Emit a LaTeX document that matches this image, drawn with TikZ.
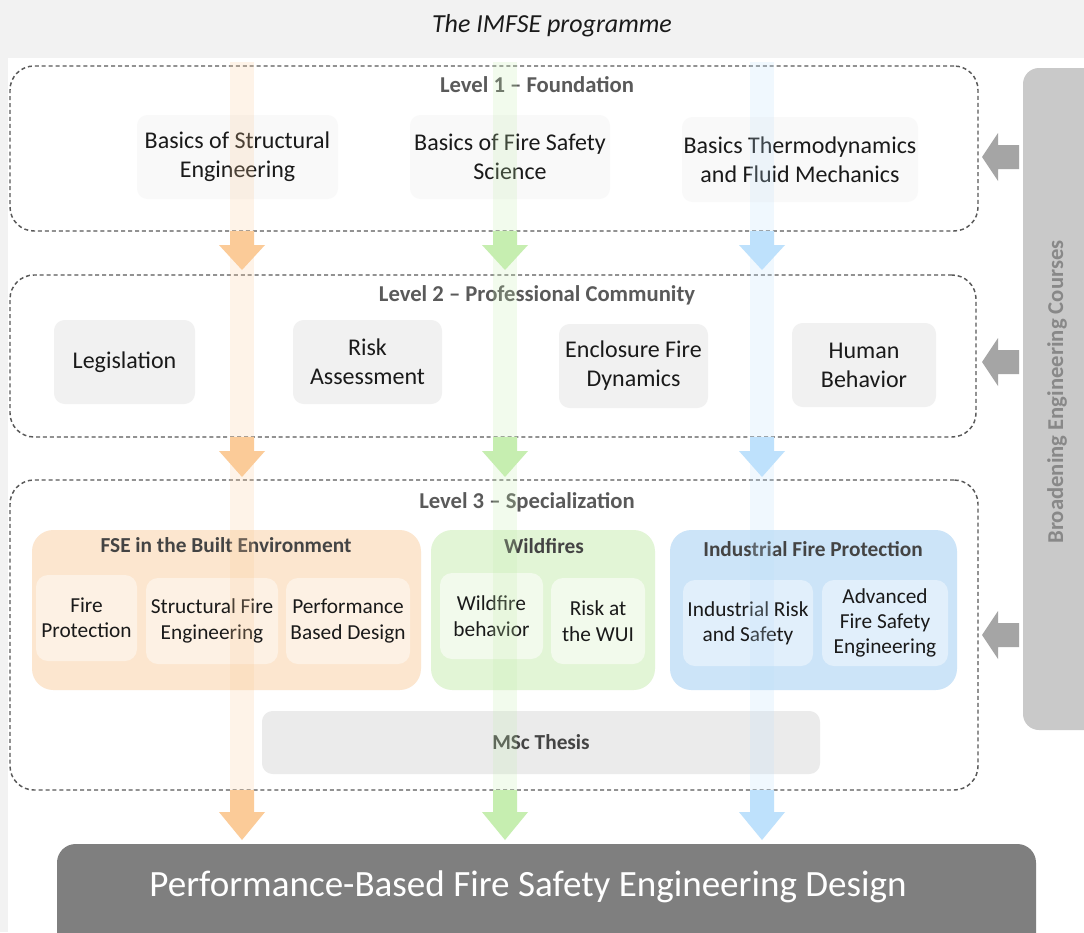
\documentclass[tikz,border=0pt]{standalone}
\usepackage{fontspec}
\setmainfont{Carlito}
\usetikzlibrary{calc}
\definecolor{bgc}{HTML}{F2F2F2}
\definecolor{dashc}{HTML}{595959}
\definecolor{lvlc}{HTML}{5A5A5A}
\definecolor{txtc}{HTML}{1A1A1A}
\definecolor{onefill}{HTML}{F9F9F9}
\definecolor{twofill}{HTML}{F1F1F1}
\definecolor{orgrp}{HTML}{FCE6CF}
\definecolor{orsub}{HTML}{FDF1E4}
\definecolor{orarr}{HTML}{FBCB98}
\definecolor{grgrp}{HTML}{E2F5D6}
\definecolor{grsub}{HTML}{F2FAEC}
\definecolor{grarr}{HTML}{C6EEB0}
\definecolor{blgrp}{HTML}{CCE4F8}
\definecolor{blsub}{HTML}{E1EFFB}
\definecolor{blarr}{HTML}{BEE1FC}
\definecolor{sidec}{HTML}{C9C9C9}
\definecolor{sidearr}{HTML}{A5A5A5}
\definecolor{sidetxt}{HTML}{888888}
\definecolor{finalc}{HTML}{7F7F7F}
\definecolor{grptxt}{HTML}{444444}
\definecolor{mscfill}{HTML}{EBEBEB}
\newcommand{\downblk}[5]{%
  \fill[#1] (#2-12,#3) -- (#2+12,#3) -- (#2+12,#4) -- (#2+23,#4) -- (#2,#5) -- (#2-23,#4) -- (#2-12,#4) -- cycle;}
\newcommand{\leftblk}[1]{%
  \fill[sidearr] (1019,#1-12) -- (998,#1-12) -- (998,#1-24) -- (982,#1) -- (998,#1+24) -- (998,#1+12) -- (1019,#1+12) -- cycle;}
% box from (x1,y1) to (x2,y2) in pixel units
\newcommand{\bx}[7]{\node[#6, minimum width={(#4-#2)*0.75pt}, minimum height={(#5-#3)*0.75pt}] (#1) at ({(#2+#4)/2},{(#3+#5)/2}) {#7};}
\tikzset{
  lvlbox/.style={draw=dashc, line width=1.1pt, dash pattern=on 3pt off 2.2pt, rounded corners=18pt, inner sep=0pt},
  lvltitle/.style={text=lvlc, font=\bfseries\fontsize{17}{20}\selectfont, inner sep=0pt},
  course/.style={fill=#1, rounded corners=8pt, inner sep=0pt, text=txtc, align=center, font=\fontsize{18}{21.8}\selectfont},
  grp/.style={fill=#1, rounded corners=16pt, inner sep=0pt},
  grptitle/.style={text=grptxt, font=\bfseries\fontsize{16}{18}\selectfont, inner sep=0pt},
  sub/.style={fill=#1, rounded corners=9pt, inner sep=0pt, text=txtc, align=center, font=\fontsize{16}{19}\selectfont},
  stripe/.style={fill=#1, opacity=0.22}
}
\begin{document}
\begin{tikzpicture}[x=0.75pt,y=-0.75pt]
\useasboundingbox (0,0) rectangle (1084,932);
\fill[white] (0,0) rectangle (1084,932);
\fill[bgc] (0,0) rectangle (1084,58);
\fill[bgc] (0,58) rectangle (8,932);

\node[font=\itshape\fontsize{19.5}{22}\selectfont, text=txtc] (title) at (552,26) {The IMFSE programme};

% side bar
\bx{side}{1023}{68}{1110}{730}{fill=sidec, rounded corners=12pt, inner sep=0pt}{}
\node[rotate=90, text=sidetxt, font=\bfseries\fontsize{17}{20}\selectfont] (sidet) at (1057,392) {Broadening Engineering Courses};

% level boxes
\bx{L1}{10}{66}{978}{231}{lvlbox}{}
\bx{L2}{10}{275}{976}{437}{lvlbox}{}
\bx{L3}{10}{480}{978}{790}{lvlbox}{}
\node[lvltitle] (L1t) at (537,85) {Level 1 – Foundation};
\node[lvltitle] (L2t) at (537,295) {Level 2 – Professional Community};
\node[lvltitle] (L3t) at (527,502) {Level 3 – Specialization};

% level 1
\bx{bs}{137}{115}{338}{199}{course=onefill}{Basics of Structural\\Engineering}
\bx{bf}{410}{115}{610}{199}{course=onefill}{Basics of Fire Safety\\Science}
\bx{bt}{682}{117}{918}{202}{course=onefill}{Basics Thermodynamics\\and Fluid Mechanics}

% level 2
\bx{leg}{54}{320}{195}{404}{course=twofill}{Legislation}
\bx{risk}{293}{320}{442}{404}{course=twofill}{Risk\\Assessment}
\bx{encl}{559}{324}{708}{408}{course=twofill}{Enclosure Fire\\Dynamics}
\bx{hum}{792}{323}{936}{407}{course=twofill}{Human\\Behavior}

% level 3 groups
\bx{gO}{32}{530}{421}{690}{grp=orgrp}{}
\bx{gG}{431}{530}{655}{690}{grp=grgrp}{}
\bx{gB}{670}{530}{957}{690}{grp=blgrp}{}
\node[grptitle] (gOt) at (226,545) {FSE in the Built Environment};
\node[grptitle] (gGt) at (544,546) {Wildfires};
\node[grptitle] (gBt) at (813,549) {Industrial Fire Protection};

\bx{fp}{36}{575}{137}{661}{sub=orsub}{Fire\\Protection}
\bx{sfe}{146}{578}{278}{664}{sub=orsub}{Structural Fire\\Engineering}
\bx{pbd}{286}{578}{410}{664}{sub=orsub}{Performance\\Based Design}
\bx{wb}{440}{573}{543}{659}{sub=grsub}{Wildfire\\behavior}
\bx{rw}{551}{578}{645}{664}{sub=grsub}{Risk at\\the WUI}
\bx{irs}{683}{580}{813}{666}{sub=blsub}{Industrial Risk\\and Safety}
\bx{afse}{822}{580}{948}{666}{sub=blsub}{Advanced\\Fire Safety\\Engineering}

\bx{msc}{262}{711}{820}{774}{fill=mscfill, rounded corners=8pt, inner sep=0pt, text=grptxt, font=\bfseries\fontsize{16}{19}\selectfont}{MSc Thesis}

% final box
\bx{final}{57}{844}{1036}{960}{fill=finalc, rounded corners=14pt, inner sep=0pt}{}
\node[text=white, font=\fontsize{27.8}{32}\selectfont] (finalt) at (528,887) {Performance-Based Fire Safety Engineering Design};

% faint stripes
\fill[stripe=orarr] (230,62) rectangle (254,790);
\fill[stripe=grarr] (493,62) rectangle (517,790);
\fill[stripe=blarr] (750,62) rectangle (774,790);

% down arrows
\downblk{orarr}{242}{231}{245}{270}
\downblk{grarr}{505}{231}{245}{270}
\downblk{blarr}{762}{231}{245}{270}
\downblk{orarr}{242}{437}{451}{477}
\downblk{grarr}{505}{437}{451}{477}
\downblk{blarr}{762}{437}{451}{477}
\downblk{orarr}{242}{790}{812}{840}
\downblk{grarr}{505}{790}{812}{840}
\downblk{blarr}{762}{790}{812}{840}

% side arrows
\leftblk{157}
\leftblk{362}
\leftblk{635}
\end{tikzpicture}
\end{document}
